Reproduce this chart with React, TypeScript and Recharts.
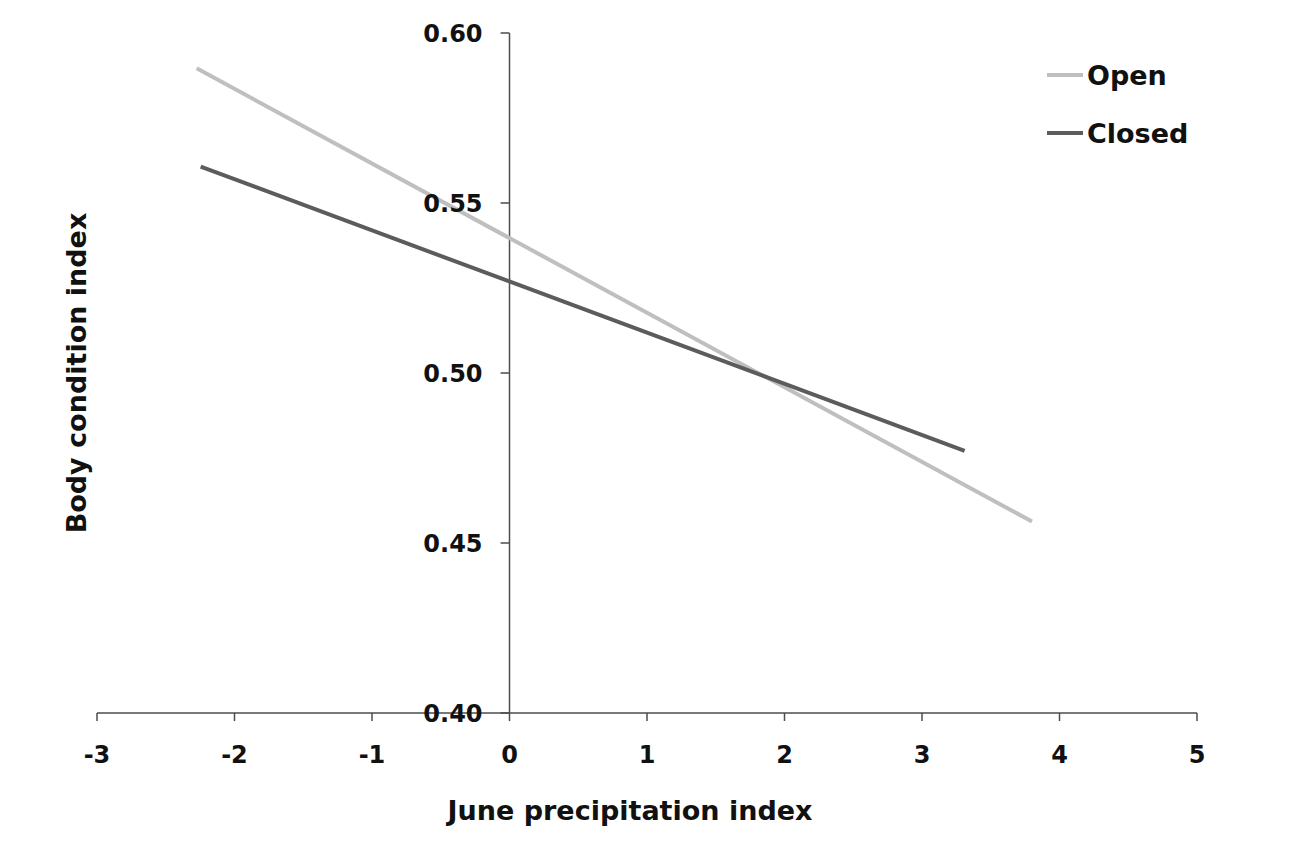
import React from 'react';
import { LineChart, Line, XAxis, YAxis, ReferenceLine, Legend } from 'recharts';

// values
const openX = [-2.275, 3.8];
const openY = [0.5896, 0.4563];
const closedX = [-2.246, 3.31];
const closedY = [0.5607, 0.4771];
const xTicks = [-3, -2, -1, 0, 1, 2, 3, 4, 5];
const yTicks = [0.4, 0.45, 0.5, 0.55, 0.6];
const seriesNames = ['Open', 'Closed'];

const FONT = '"DejaVu Sans", sans-serif';
const AXIS = '#4d4d4d';
const OPEN_COLOR = '#bfbfbf';
const CLOSED_COLOR = '#5c5c5c';

const openData = openX.map((x, i) => ({ x, y: openY[i] }));
const closedData = closedX.map((x, i) => ({ x, y: closedY[i] }));

const LegendBox = () => {
    const items = [
        { name: seriesNames[0], color: OPEN_COLOR },
        { name: seriesNames[1], color: CLOSED_COLOR },
    ];
    return (
        <div style={{ fontFamily: FONT, fontWeight: 'bold', fontSize: 27, color: '#111' }}>
            {items.map(it => (
                <div key={it.name} style={{ display: 'flex', alignItems: 'center', height: 58 }}>
                    <svg width={40} height={10}>
                        <line x1={0} y1={5} x2={36} y2={5} stroke={it.color} strokeWidth={4} />
                    </svg>
                    <span>{it.name}</span>
                </div>
            ))}
        </div>
    );
};

export default function App() {
    return (
        <div style={{ width: 1280, height: 830, background: '#fff' }}>
            <LineChart
                width={1280}
                height={830}
                margin={{ top: 25, right: 91, bottom: 65, left: 29 }}
            >
                <XAxis
                    type="number"
                    dataKey="x"
                    domain={[-3, 5]}
                    ticks={xTicks}
                    allowDataOverflow
                    height={60}
                    stroke={AXIS}
                    strokeWidth={1.5}
                    tickSize={8}
                    tickMargin={25}
                    tick={{ fill: '#111', fontSize: 24, fontWeight: 'bold', fontFamily: FONT }}
                    label={{
                        value: 'June precipitation index',
                        position: 'bottom',
                        offset: 28,
                        dx: -17,
                        fill: '#111',
                        fontSize: 27,
                        fontWeight: 'bold',
                        fontFamily: FONT,
                    }}
                />
                <YAxis
                    type="number"
                    dataKey="y"
                    domain={[0.4, 0.6]}
                    ticks={yTicks}
                    width={60}
                    axisLine={false}
                    tickLine={false}
                    tick={false}
                    label={{
                        value: 'Body condition index',
                        angle: -90,
                        position: 'insideLeft',
                        offset: 39,
                        style: { textAnchor: 'middle' },
                        fill: '#111',
                        fontSize: 27,
                        fontWeight: 'bold',
                        fontFamily: FONT,
                    }}
                />
                <ReferenceLine x={0} stroke={AXIS} strokeWidth={1.5} />
                {yTicks.map(t => (
                    <ReferenceLine
                        key={t}
                        segment={[{ x: -0.065, y: t }, { x: 0, y: t }]}
                        stroke={AXIS}
                        strokeWidth={1.5}
                        label={{
                            value: t.toFixed(2),
                            position: 'left',
                            offset: 18,
                            fill: '#111',
                            fontSize: 24,
                            fontWeight: 'bold',
                            fontFamily: FONT,
                        }}
                    />
                ))}
                <Line
                    data={openData}
                    dataKey="y"
                    name={seriesNames[0]}
                    stroke={OPEN_COLOR}
                    strokeWidth={4}
                    dot={false}
                    activeDot={false}
                    isAnimationActive={false}
                />
                <Line
                    data={closedData}
                    dataKey="y"
                    name={seriesNames[1]}
                    stroke={CLOSED_COLOR}
                    strokeWidth={4}
                    dot={false}
                    activeDot={false}
                    isAnimationActive={false}
                />
                <Legend
                    content={<LegendBox />}
                    layout="horizontal"
                    verticalAlign="middle"
                    align="center"
                    wrapperStyle={{ top: 38, left: 1039, width: 200 }}
                />
            </LineChart>
        </div>
    );
}
